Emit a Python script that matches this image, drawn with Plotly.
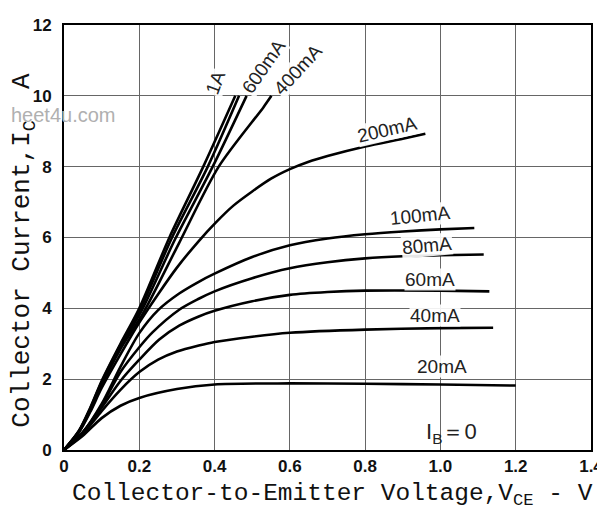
import plotly.graph_objects as go

# ---- data (VCE in V, IC in A) ----
vce_1a = [0, 0.04, 0.07, 0.1, 0.15, 0.2, 0.28, 0.37, 0.455]
ic_1a = [0, 0.55, 1.2, 1.95, 3.0, 4.0, 6.0, 8.0, 10.0]

vce_800 = [0, 0.04, 0.07, 0.1, 0.15, 0.203, 0.287, 0.382, 0.465]
ic_800 = [0, 0.54, 1.18, 1.92, 2.97, 3.98, 6.0, 8.0, 10.0]

vce_600 = [0, 0.04, 0.07, 0.1, 0.15, 0.207, 0.295, 0.395, 0.485]
ic_600 = [0, 0.53, 1.15, 1.88, 2.92, 3.95, 5.95, 8.0, 10.0]

vce_400 = [0, 0.04, 0.07, 0.1, 0.15, 0.212, 0.306, 0.411, 0.53, 0.551]
ic_400 = [0, 0.52, 1.12, 1.83, 2.85, 3.9, 5.85, 8.0, 9.68, 10.0]

vce_200 = [0, 0.04, 0.07, 0.1, 0.15, 0.2, 0.25, 0.3, 0.358, 0.403, 0.45, 0.5,
           0.55, 0.6, 0.65, 0.7, 0.8, 0.9, 0.96]
ic_200 = [0, 0.5, 1.08, 1.75, 2.7, 3.6, 4.4, 5.15, 5.9, 6.42, 6.9, 7.3,
          7.66, 7.93, 8.14, 8.3, 8.57, 8.79, 8.93]

vce_100 = [0, 0.05, 0.1, 0.15, 0.2, 0.25, 0.306, 0.358, 0.4, 0.5, 0.6, 0.7,
           0.8, 0.9, 1.0, 1.09]
ic_100 = [0, 0.5, 1.3, 2.35, 3.3, 3.95, 4.42, 4.75, 4.98, 5.45, 5.78, 5.97,
          6.09, 6.17, 6.23, 6.27]

vce_80 = [0, 0.05, 0.1, 0.15, 0.2, 0.235, 0.306, 0.358, 0.4, 0.5, 0.6, 0.7,
          0.8, 0.9, 1.0, 1.115]
ic_80 = [0, 0.5, 1.25, 2.2, 2.9, 3.32, 3.96, 4.27, 4.48, 4.85, 5.13, 5.3,
         5.41, 5.47, 5.5, 5.52]

vce_60 = [0, 0.05, 0.1, 0.15, 0.2, 0.253, 0.306, 0.358, 0.4, 0.5, 0.6, 0.7,
          0.8, 1.0, 1.13]
ic_60 = [0, 0.5, 1.2, 1.95, 2.55, 3.12, 3.51, 3.77, 3.93, 4.2, 4.38, 4.46,
         4.5, 4.5, 4.48]

vce_40 = [0, 0.05, 0.1, 0.15, 0.2, 0.25, 0.3, 0.358, 0.4, 0.5, 0.6, 0.8, 1.0, 1.14]
ic_40 = [0, 0.45, 1.1, 1.7, 2.2, 2.55, 2.78, 2.95, 3.05, 3.2, 3.31, 3.4, 3.44, 3.45]

vce_20 = [0, 0.05, 0.1, 0.15, 0.2, 0.3, 0.4, 0.6, 0.8, 1.0, 1.2]
ic_20 = [0, 0.4, 0.9, 1.25, 1.47, 1.72, 1.85, 1.88, 1.87, 1.85, 1.82]

curves = [
    ("1A", vce_1a, ic_1a),
    ("800mA", vce_800, ic_800),
    ("600mA", vce_600, ic_600),
    ("400mA", vce_400, ic_400),
    ("200mA", vce_200, ic_200),
    ("100mA", vce_100, ic_100),
    ("80mA", vce_80, ic_80),
    ("60mA", vce_60, ic_60),
    ("40mA", vce_40, ic_40),
    ("20mA", vce_20, ic_20),
]

x_ticks = [0, 0.2, 0.4, 0.6, 0.8, 1.0, 1.2, 1.4]
x_tick_text = ["0", "0.2", "0.4", "0.6", "0.8", "1.0", "1.2", "1.4"]
y_ticks = [0, 2, 4, 6, 8, 10, 12]

# curve labels: (text, x, y, angle)
labels = [
    ("1A", 0.403, 10.37, -70),
    ("600mA", 0.53, 10.84, -55),
    ("400mA", 0.622, 10.73, -47),
    ("200mA", 0.859, 9.04, -13),
    ("100mA", 0.946, 6.61, -6),
    ("80mA", 0.964, 5.78, -5),
    ("60mA", 0.972, 4.81, 0),
    ("40mA", 0.986, 3.79, 0),
    ("20mA", 1.004, 2.35, 0),
]

fig = go.Figure()
for name, xs, ys in curves:
    fig.add_trace(go.Scatter(
        x=xs, y=ys, mode="lines", name=name,
        line=dict(color="black", width=2.6, shape="spline", smoothing=0.8),
        hoverinfo="skip", showlegend=False,
    ))

label_font = dict(family="Liberation Sans", size=19, color="#222")
for text, lx, ly, ang in labels:
    fig.add_annotation(x=lx, y=ly, text=text, showarrow=False, textangle=ang,
                       font=label_font, bgcolor="rgba(255,255,255,0.9)", borderpad=0)

fig.add_annotation(x=1.03, y=0.47, text="I<sub>B</sub>＝0", showarrow=False,
                   font=dict(family="Liberation Sans", size=22, color="#222"))

fig.add_annotation(xref="paper", yref="paper", x=0.51, y=-0.106,
                   text="Collector-to-Emitter Voltage,V<sub>CE</sub> - V",
                   showarrow=False, xanchor="center", yanchor="middle",
                   font=dict(family="Liberation Mono", size=24.5, color="#111"))
fig.add_annotation(xref="paper", yref="paper", x=-0.077, y=0.47,
                   text="Collector Current,I<sub>C</sub>&nbsp;&nbsp;A", textangle=-90,
                   showarrow=False, xanchor="center", yanchor="middle",
                   font=dict(family="Liberation Mono", size=26, color="#111"))
fig.add_annotation(xref="paper", yref="paper", x=-0.105, y=0.788,
                   text="heet4u.com", showarrow=False, xanchor="left", yanchor="middle",
                   font=dict(family="Liberation Sans", size=20, color="#b0b0b0"))

axis_common = dict(showgrid=True, gridcolor="#666666", gridwidth=1,
                   showline=True, linecolor="black", linewidth=2, mirror=True,
                   zeroline=False, ticks="", ticklabeloverflow="allow",
                   tickfont=dict(family="Liberation Sans", size=17, color="#111", weight="bold"))

fig.update_xaxes(range=[0, 1.4], tickvals=x_ticks, ticktext=x_tick_text, **axis_common)
fig.update_yaxes(range=[0, 12], tickvals=y_ticks, ticklabelstandoff=7, **axis_common)

fig.update_layout(width=605, height=518,
                  margin=dict(l=56, r=22, t=8, b=76),
                  plot_bgcolor="white", paper_bgcolor="white")

fig.write_html("out.html")
